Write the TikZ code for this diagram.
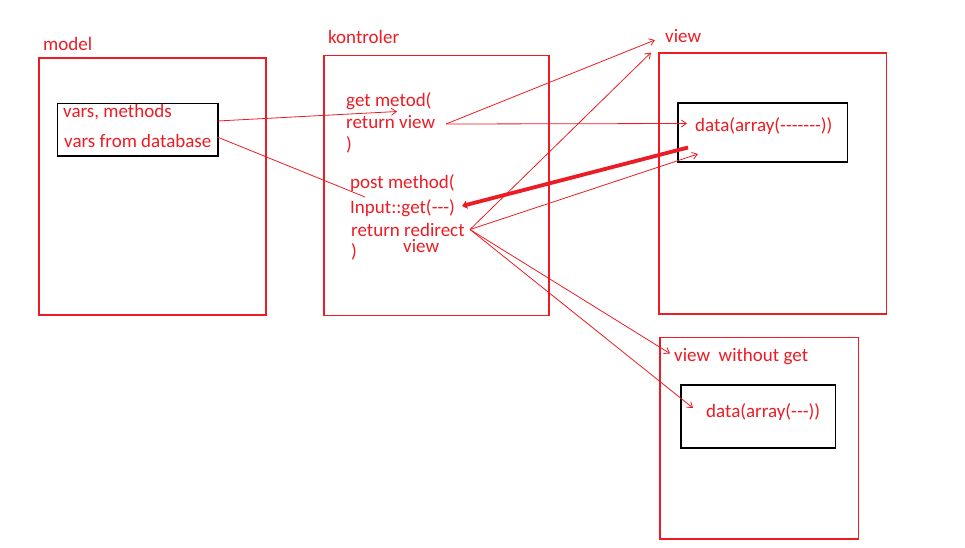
\documentclass[tikz,border=0pt]{standalone}
\usepackage{fontspec}
\setmainfont{Carlito}[Ligatures=TeXOff]
\usetikzlibrary{arrows.meta}
\definecolor{paintred}{RGB}{237,28,36}
\tikzset{
  outerbox/.style={draw=paintred, line width=1.2pt, inner sep=0pt, anchor=north west},
  innerbox/.style={draw=black, line width=1.5pt, inner sep=0pt, anchor=north west},
  lbl/.style={text=paintred, inner sep=0pt, anchor=base west, font=\fontsize{19}{22}\selectfont},
  link/.style={draw=paintred, line width=0.8pt},
  arrowlink/.style={link, -{Straight Barb[length=5pt,width=7pt]}},
  heavylink/.style={draw=paintred, line width=3.8pt, -{Triangle[length=5pt,width=8pt]}}
}
\begin{document}
\begin{tikzpicture}[x=1pt,y=-1pt]
\useasboundingbox (0,0) rectangle (965,547);
\fill[white] (0,0) rectangle (965,547);

% model
\node[outerbox, minimum width=227pt, minimum height=257pt] (model) at (38.3,57.3) {};
\node[innerbox, minimum width=160.6pt, minimum height=52.6pt] (modelin) at (56.7,102.7) {};
\node[lbl] (modelt) at (43,50) {model};
\node[lbl] (vars) at (63,117) {vars, methods};
\node[lbl] (varsdb) at (64,147) {vars from database};

% controller
\node[outerbox, minimum width=225pt, minimum height=260pt] (ctrl) at (323.3,55) {};
\node[lbl] (ctrlt) at (328,43) {kontroler};
\node[lbl] (get) at (346,106) {get metod(};
\node[lbl] (retview) at (346,128) {return view};
\node[lbl] (close1) at (346,150) {)};
\node[lbl] (post) at (350,188) {post method(};
\node[lbl] (input) at (350,213) {Input::get(---)};
\node[lbl] (redir) at (351,236) {return redirect};
\node[lbl] (redirv) at (403,252) {view};
\node[lbl] (close2) at (351,257) {)};

% view
\node[outerbox, minimum width=227.4pt, minimum height=261pt] (view) at (658.3,52.3) {};
\node[innerbox, minimum width=169.4pt, minimum height=58.7pt] (viewin) at (677.3,102.3) {};
\node[lbl] (viewt) at (665,42) {view};
\node[lbl] (data1) at (695,131) {data(array(-------))};

% view without get
\node[outerbox, minimum width=198.7pt, minimum height=201.6pt] (vwg) at (659.3,336.7) {};
\node[innerbox, minimum width=154.4pt, minimum height=63pt] (vwgin) at (680.3,384.3) {};
\node[lbl] (vwgt) at (674,361) {view\ \ without get};
\node[lbl] (data2) at (706,417) {data(array(---))};

% connector ends
\coordinate (m1) at (217.3,121);
\coordinate (m2) at (217.3,137);
\coordinate (g1) at (397,111.5);
\coordinate (p1) at (365,197);
\coordinate (rv) at (446,124);
\coordinate (vt) at (655,40);
\coordinate (d1) at (687,123.5);
\coordinate (hs) at (688,147.5);
\coordinate (he) at (462,206);
\coordinate (rr) at (470,229.5);
\coordinate (d1b) at (698,154);
\coordinate (vt2) at (651,52.5);
\coordinate (wg) at (670,353.5);
\coordinate (d2) at (693,408);

\draw[arrowlink] (m1) -- (g1);
\draw[link] (m2) -- (p1);
\draw[arrowlink] (rv) -- (vt);
\draw[arrowlink] (rv) -- (d1);
\draw[heavylink] (hs) -- (he);
\draw[arrowlink] (rr) -- (d1b);
\draw[arrowlink] (rr) -- (vt2);
\draw[arrowlink] (rr) -- (wg);
\draw[arrowlink] (rr) -- (d2);
\end{tikzpicture}
\end{document}
